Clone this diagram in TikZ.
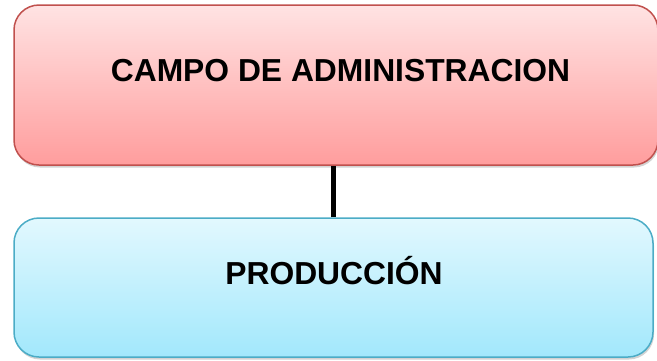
\documentclass[tikz,border=0pt]{standalone}
\usepackage{fontspec}
\setmainfont{Liberation Sans}
\usetikzlibrary{shadows}
\definecolor{redline}{HTML}{C0504D}
\definecolor{redtop}{HTML}{FFE3E3}
\definecolor{redbottom}{HTML}{FF9D9D}
\definecolor{blueline}{HTML}{4BACC6}
\definecolor{bluetop}{HTML}{E2F8FE}
\definecolor{bluebottom}{HTML}{A2E8FC}
\begin{document}
\begin{tikzpicture}[x=1pt, y=-1pt,
    box/.style = {rectangle, rounded corners=25pt, line width=1.5pt,
      drop shadow={opacity=0.35, shadow xshift=1pt, shadow yshift=-2.5pt}},
    redbox/.style = {box, draw=redline, top color=redtop, bottom color=redbottom},
    bluebox/.style = {box, draw=blueline, top color=bluetop, bottom color=bluebottom},
    title/.style = {font=\fontsize{31.8}{36}\selectfont\bfseries, inner sep=0pt}]
  \useasboundingbox (0,0) rectangle (657,360);
  \node [redbox, minimum width=644pt, minimum height=160pt] (campo) at (336,85) {};
  \node [bluebox, minimum width=639pt, minimum height=139pt] (prod) at (333.5,287.5) {};
  \draw [line width=5pt] (prod.north) -- (prod.north |- campo.south);
  \node [title] (campotext) at (340.5,70.5) {CAMPO DE ADMINISTRACION};
  \node [title] (prodtext) at (334,271) {PRODUCCIÓN};
\end{tikzpicture}
\end{document}
